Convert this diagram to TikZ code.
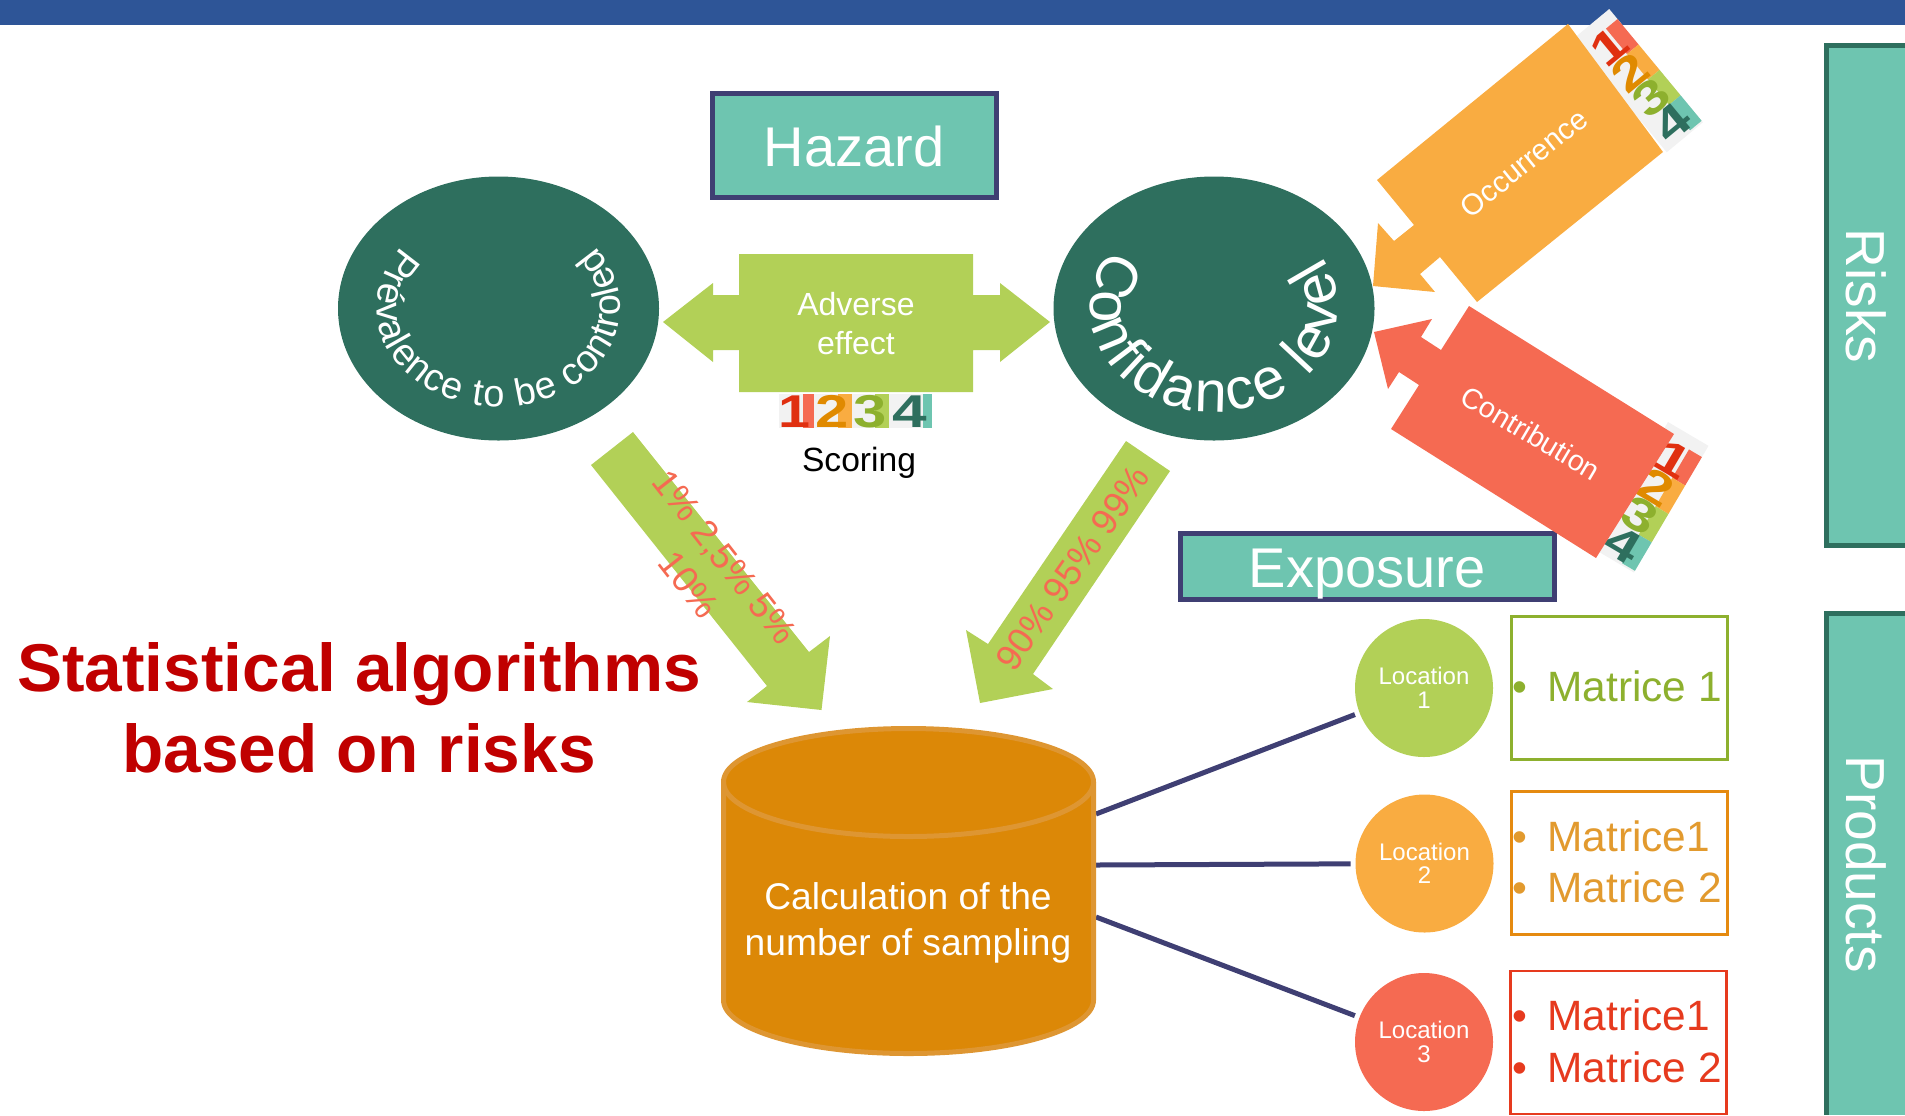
\documentclass[tikz,border=0pt]{standalone}
\usepackage{fontspec}
\setmainfont{Liberation Sans}
\usetikzlibrary{shapes.geometric,decorations.text}
\definecolor{topblue}{HTML}{2E5597}
\definecolor{teal}{HTML}{6EC5B0}
\definecolor{darkgreen}{HTML}{2E6F5E}
\definecolor{navy}{HTML}{3F3F73}
\definecolor{leaf}{HTML}{B2D057}
\definecolor{amber}{HTML}{F9AC41}
\definecolor{salmon}{HTML}{F56A52}
\definecolor{ochre}{HTML}{DC8807}
\definecolor{ochreline}{HTML}{DE9632}
\definecolor{titlered}{HTML}{C00000}
\definecolor{olive}{HTML}{8DB02E}
\definecolor{orangeline}{HTML}{E58A10}
\definecolor{orangetext}{HTML}{E29A2E}
\definecolor{redline}{HTML}{E63A1E}
\definecolor{stripgray}{HTML}{F2F2F2}
\definecolor{darkred}{HTML}{E03010}
\definecolor{darkorange}{HTML}{E08A00}
\tikzset{
  headbox/.style={draw=navy,line width=2.5pt,fill=teal,inner sep=0pt,outer sep=0pt},
  headtext/.style={anchor=base,inner sep=0pt,text=white,font=\fontsize{28}{28}\selectfont},
  bigoval/.style={ellipse,fill=darkgreen,inner sep=0pt,minimum width=160.5pt,minimum height=132pt},
  locnode/.style={circle,inner sep=0pt,outer sep=2.5pt,minimum size=69pt,text=white,align=center,font=\fontsize{12}{11.75}\selectfont},
  matbox/.style={draw,line width=1.1pt,fill=white,inner sep=0pt,outer sep=0pt,minimum width=108pt,minimum height=71.5pt},
  matline/.style={anchor=base west,inner sep=0pt,font=\fontsize{21.2}{21.2}\selectfont},
  wire/.style={draw=navy,line width=2.5pt},
  pct/.style={inner sep=0pt,text=salmon,align=center,font=\fontsize{18.2}{22.5}\selectfont},
  sidetext/.style={anchor=base,inner sep=0pt,rotate=-90,text=white,font=\fontsize{27.5}{27.5}\selectfont},
  digit/.style={anchor=base,inner sep=0pt,font=\fontsize{23}{23}\selectfont\bfseries},
  turned/.style={inner sep=0pt,text=white,font=\fontsize{14.8}{14.8}\selectfont},
}
\newcommand{\vertstrip}[3]{%
  \begin{scope}[shift={(#1,#2)},rotate=#3,transform shape]
    \fill[stripgray] (0,0) rectangle (47,147);
    \fill[salmon] (32,13) rectangle (47,46);
    \fill[amber] (32,46) rectangle (47,79);
    \fill[leaf] (32,79) rectangle (47,112);
    \fill[teal] (32,112) rectangle (47,145);
    \node[digit,text=darkred] at (23,45) {\scalebox{1.3}[1]{1}};
    \node[digit,text=darkorange] at (23,78) {\scalebox{1.3}[1]{2}};
    \node[digit,text=olive] at (23,111) {\scalebox{1.3}[1]{3}};
    \node[digit,text=darkgreen] at (23,144) {\scalebox{1.3}[1]{4}};
  \end{scope}}
\begin{document}
\begin{tikzpicture}[x=0.5pt,y=-0.5pt]
\useasboundingbox (0,0) rectangle (1905,1115);
% top bar
\fill[topblue] (0,0) rectangle (1905,25);
% side panels
\fill[teal] (1826,45) rectangle (1905,545);
\draw[darkgreen,line width=2.5pt] (1905,45) -- (1826,45) -- (1826,545) -- (1905,545);
\fill[teal] (1826,613) rectangle (1905,1115);
\draw[darkgreen,line width=2.5pt] (1905,613) -- (1826,613) -- (1826,1115);
\node[sidetext] (risks) at (1846,296) {Risks};
\node[sidetext] (products) at (1846,864) {Products};
% heading boxes
\node[headbox,minimum width=142pt,minimum height=52pt] (hazard) at (854,145) {};
\node[headtext] (hazardtext) at (854,166) {Hazard};
\node[headbox,minimum width=187pt,minimum height=33pt] (exposure) at (1367,566.5) {};
\node[headtext] (exposuretext) at (1367,587) {Exposure};
% ovals
\node[bigoval] (prevalence) at (498.5,308.5) {};
\node[bigoval] (confidence) at (1214,308.5) {};
\path[decorate,decoration={text along path,text align={fit to path},
  text={|\fontsize{19}{19}\selectfont\color{white}|Prévalence to be controled}}]
  plot[domain=218:-38,samples=150,variable=\t] ({498.5+122*cos(\t)},{308+99*sin(\t)});
\path[decorate,decoration={text along path,text align={fit to path},
  text={|\fontsize{29}{29}\selectfont\color{white}|Confidance level}}]
  plot[domain=214:-30,samples=150,variable=\t] ({1214+124*cos(\t)},{308+104*sin(\t)});
% adverse effect double arrow
\fill[leaf] (663,322) -- (713,283) -- (713,295) -- (739,295) -- (739,254) -- (973,254)
  -- (973,295) -- (1000,295) -- (1000,283) -- (1050,322) -- (1000,362) -- (1000,350)
  -- (973,350) -- (973,392) -- (739,392) -- (739,350) -- (713,350) -- (713,362) -- cycle;
\node[inner sep=0pt,text=white,align=center,font=\fontsize{16}{19.5}\selectfont] (adverse) at (856,324) {Adverse\\effect};
% scoring strip
\fill[stripgray] (779,394) rectangle (932,428);
\fill[salmon] (803,394) rectangle (814,428);
\fill[amber] (838,394) rectangle (852,428);
\fill[leaf] (875,394) rectangle (889,428);
\fill[teal] (923,394) rectangle (932,428);
\node[digit,text=darkred] (score1) at (794,427) {\scalebox{1.25}[1]{1}};
\node[digit,text=darkorange] (score2) at (832,427) {\scalebox{1.3}[1]{2}};
\node[digit,text=olive] (score3) at (870,427) {\scalebox{1.3}[1]{3}};
\node[digit,text=darkgreen] (score4) at (910,427) {\scalebox{1.35}[1]{4}};
\node[anchor=base,inner sep=0pt,font=\fontsize{16.8}{16.8}\selectfont] (scoring) at (859,471) {Scoring};
% occurrence and contribution
\vertstrip{1573}{39}{39.6}
\vertstrip{1668}{422}{-30.5}
\fill[amber] (1568,24) -- (1663,152) -- (1477,302) -- (1440,257) -- (1420,274) -- (1435,292)
  -- (1373,286) -- (1378,223) -- (1394,241) -- (1414,225) -- (1377,180) -- cycle;
\node[turned,rotate=39] (occurrence) at (1524,163) {Occurrence};
\fill[salmon] (1374,332) -- (1432,319) -- (1421,337) -- (1441,350) -- (1469,306) -- (1674,434)
  -- (1596,558) -- (1391,429) -- (1419,385) -- (1399,372) -- (1388,389) -- cycle;
\node[turned,rotate=-30.6,font=\fontsize{14.4}{14.4}\selectfont] (contribution) at (1531,433) {Contribution};
% slanted arrows
\fill[leaf] (633,432) -- (591,465) -- (767,686) -- (747,702) -- (821.5,710) -- (830,636) -- (809,652) -- cycle;
\node[pct,rotate=-52] (lowpct) at (707,571) {1\% 2,5\% 5\%\\10\%};
\fill[leaf] (1126,441) -- (1170,471) -- (1033,674) -- (1053,689) -- (980,703) -- (966,630) -- (988,644) -- cycle;
\node[pct,rotate=55] (highpct) at (1072.5,568) {90\% 95\% 99\%};
% title
\node[inner sep=0pt,text=titlered,align=center,font=\fontsize{33.8}{40.5}\selectfont\bfseries] (title) at (359,707.5) {Statistical algorithms\\based on risks};
% locations
\node[locnode,fill=leaf] (loc1) at (1424,688) {Location\\1};
\node[locnode,fill=amber] (loc2) at (1424.5,863.5) {Location\\2};
\node[locnode,fill=salmon] (loc3) at (1424,1042) {Location\\3};
\coordinate (cylA) at (1096,814);
\coordinate (cylB) at (1096,865);
\coordinate (cylC) at (1096,917);
\draw[wire] (cylA) -- (loc1);
\draw[wire] (cylB) -- (loc2);
\draw[wire] (cylC) -- (loc3);
% cylinder
\filldraw[fill=ochre,draw=ochreline,line width=2.5pt] (723.5,782) -- (723.5,1000)
  .. controls (723.5,1029.8) and (806.3,1053.5) .. (908.5,1053.5)
  .. controls (1010.7,1053.5) and (1093.5,1029.8) .. (1093.5,1000)
  -- (1093.5,782)
  .. controls (1093.5,752.2) and (1010.7,728.5) .. (908.5,728.5)
  .. controls (806.3,728.5) and (723.5,752.2) .. (723.5,782) -- cycle;
\draw[ochreline,line width=2.5pt] (723.5,782)
  .. controls (723.5,811.8) and (806.3,836.5) .. (908.5,836.5)
  .. controls (1010.7,836.5) and (1093.5,811.8) .. (1093.5,782);
\node[inner sep=0pt,text=white,align=center,font=\fontsize{18.6}{23}\selectfont] (cylinder) at (908,922.5) {Calculation of the\\number of sampling};
% matrices
\node[matbox,draw=olive] (mat1) at (1619.5,688) {};
\node[matline,text=olive] (mat1a) at (1512,701) {\makebox[17.5pt][l]{•}Matrice 1};
\node[matbox,draw=orangeline] (mat2) at (1619.5,863) {};
\node[matline,text=orangetext] (mat2a) at (1512,851) {\makebox[17.5pt][l]{•}Matrice1};
\node[matline,text=orangetext] (mat2b) at (1512,902) {\makebox[17.5pt][l]{•}Matrice 2};
\node[matbox,draw=redline] (mat3) at (1618.5,1042.5) {};
\node[matline,text=redline] (mat3a) at (1512,1030) {\makebox[17.5pt][l]{•}Matrice1};
\node[matline,text=redline] (mat3b) at (1512,1082) {\makebox[17.5pt][l]{•}Matrice 2};
\end{tikzpicture}
\end{document}
